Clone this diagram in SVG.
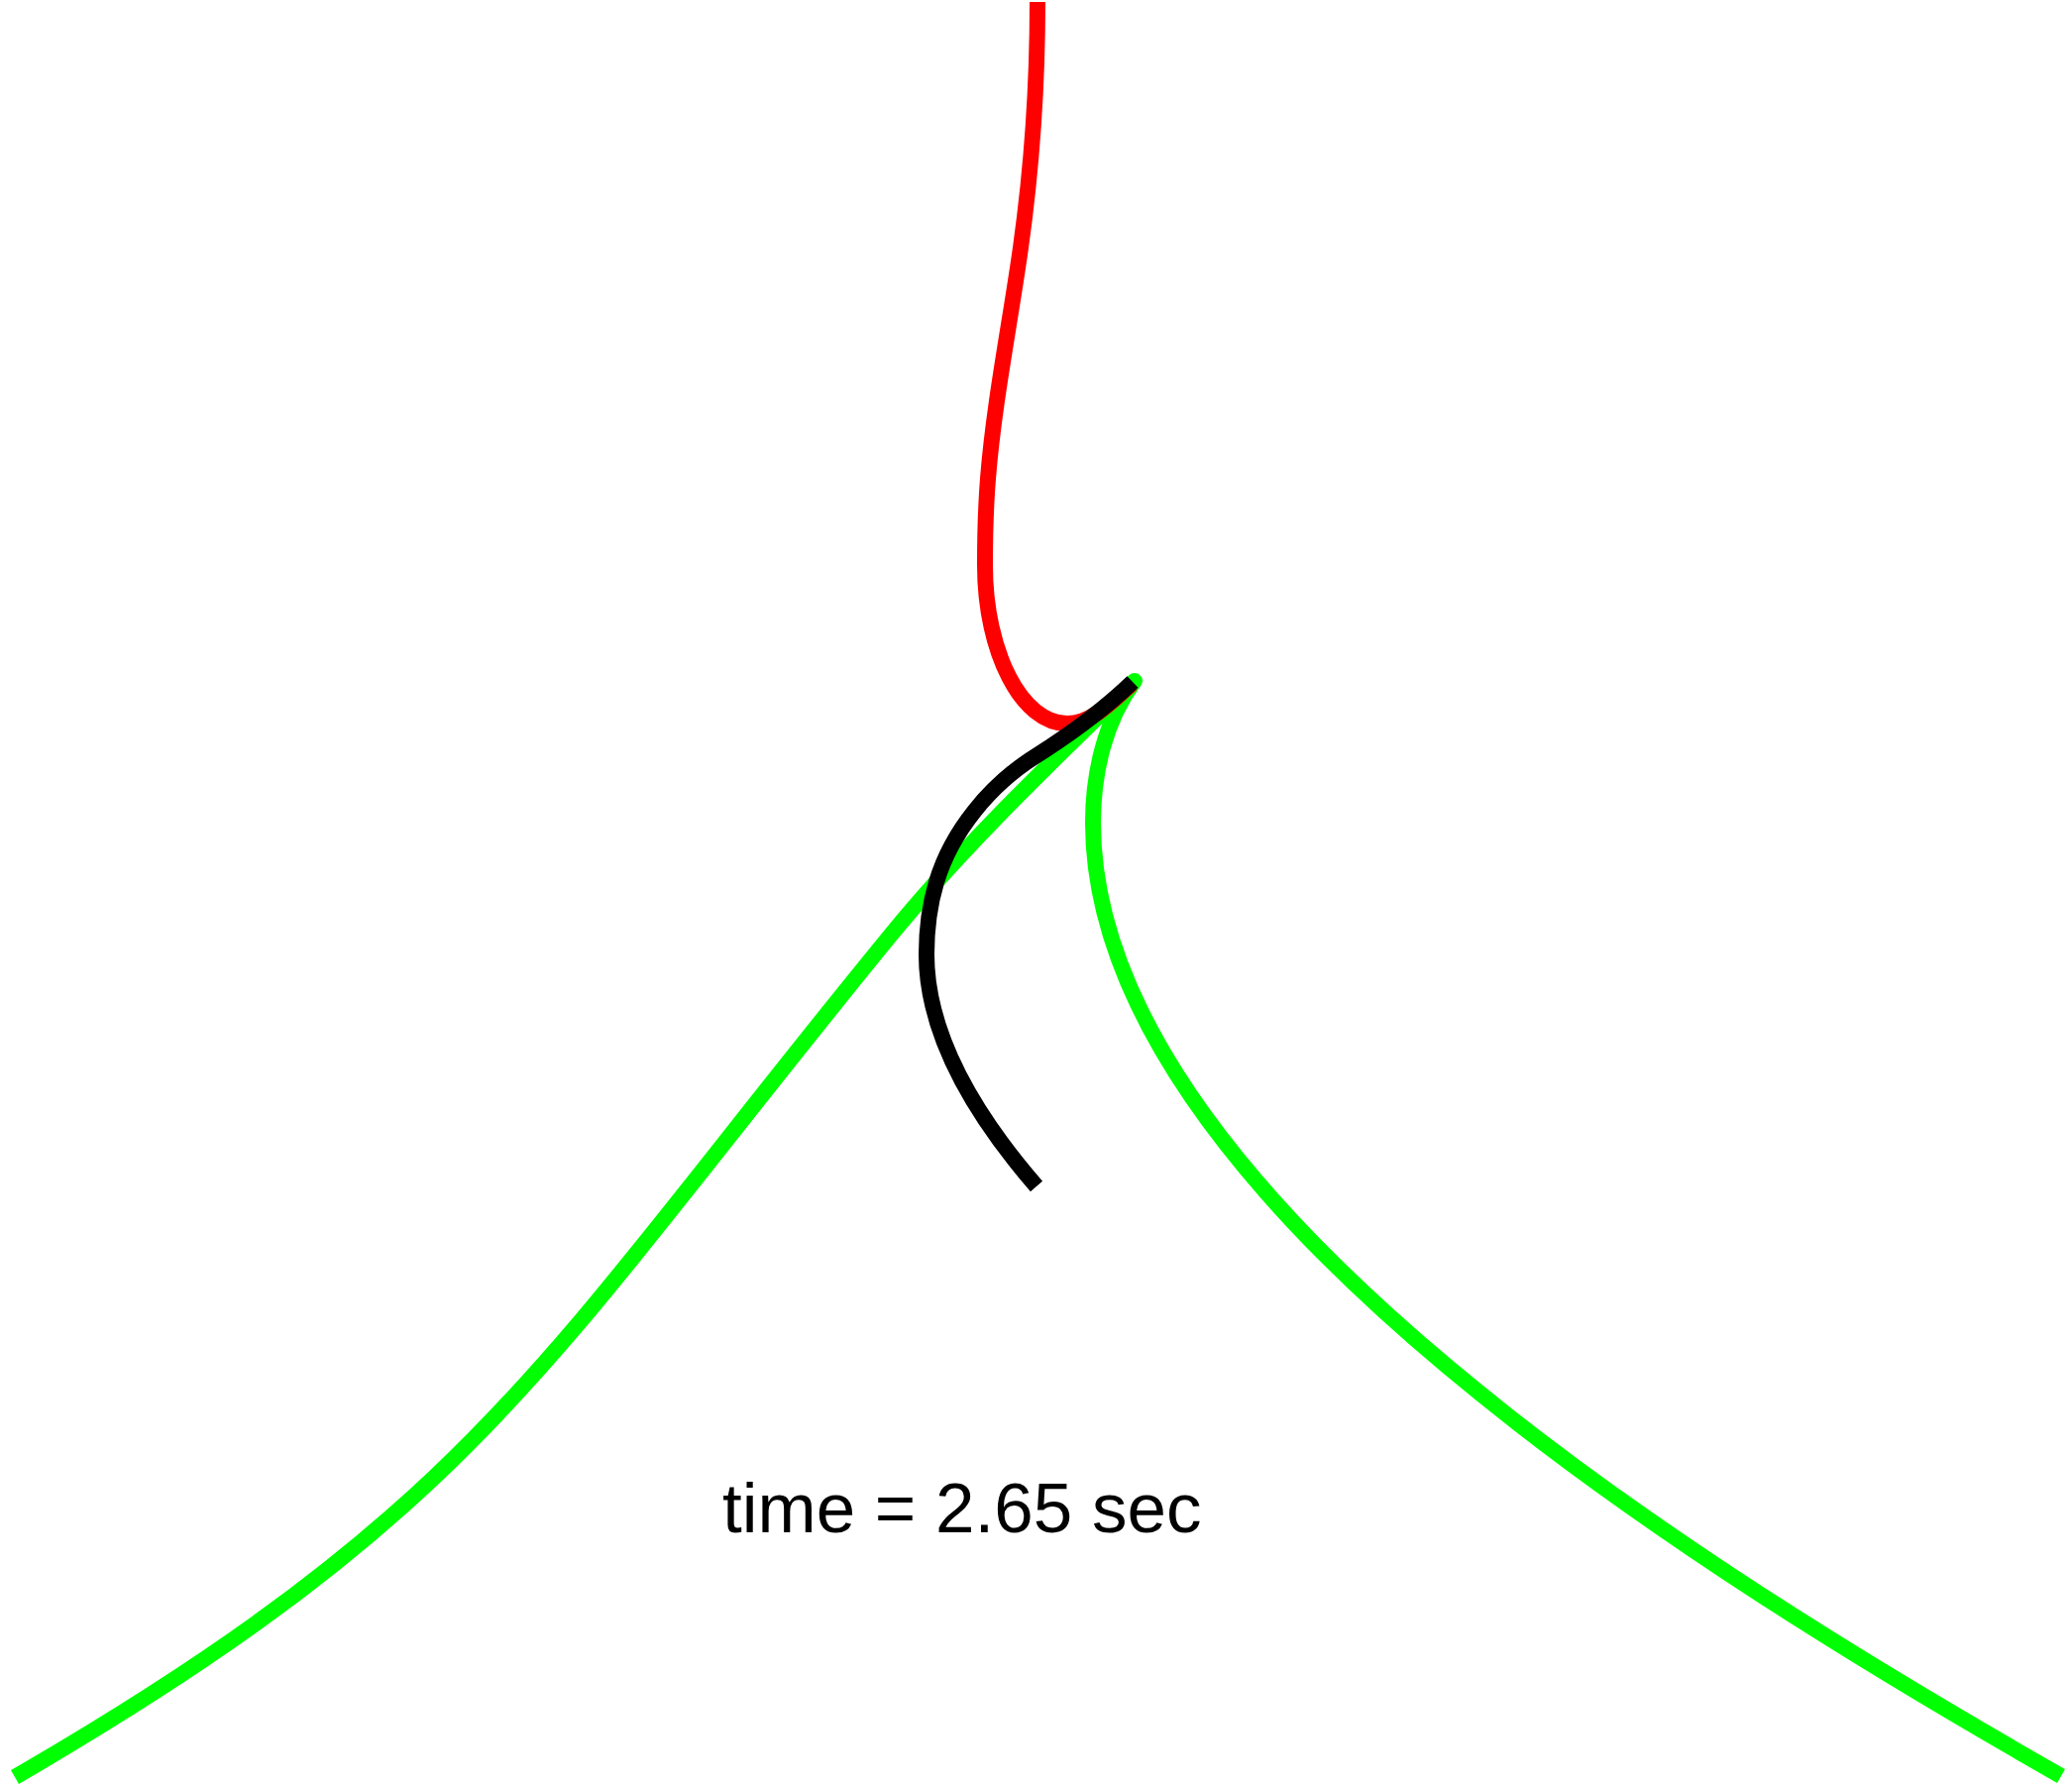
<svg xmlns="http://www.w3.org/2000/svg" width="2091" height="1803" viewBox="0 0 2091 1803">
  <style>
    .curve { fill: none; stroke-width: 16; stroke-linejoin: round; stroke-linecap: butt; }
    .green { stroke: #00ff00; }
    .red { stroke: #ff0000; }
    .black { stroke: #000000; }
    .label { font-family: "Liberation Sans", Arial, Helvetica, sans-serif; font-size: 71px; fill: #000000; }
  </style>
  <rect x="0" y="0" width="2091" height="1803" fill="#ffffff"/>
  <g id="curves">
    <g id="green-curve">
      <path class="curve green" d="M 15 1793 C 490.8 1516.9, 551.4 1367.4, 900 942 C 974.8 850.7, 1060.7 769.6, 1145 687 C 1115 727, 1103 780, 1103 830 C 1103 1210, 1732.5 1593.9, 2080 1792"/>
    </g>
    <g id="red-curve">
      <path class="curve red" d="M 1047 2 C 1047 85, 1041.5 167.8, 1030 250 C 1019.2 327.2, 1003.2 405.2, 997 483 C 994.7 512, 994 541, 994 570 C 994 658.4, 1031.2 730, 1077 730 C 1102 730, 1123.5 706.8, 1142 690"/>
    </g>
    <g id="black-curve">
      <path class="curve black" d="M 1143 688 C 1113.5 716.3, 1079.7 741.1, 1045 763 C 999.3 791.8, 960.5 838.3, 945 890 C 938.1 913, 935 939, 935 963 C 935 1049, 989.7 1132, 1046 1197"/>
    </g>
  </g>
  <g id="time-label">
    <text class="label" x="729" y="1546">time = 2.65 sec</text>
  </g>
</svg>
